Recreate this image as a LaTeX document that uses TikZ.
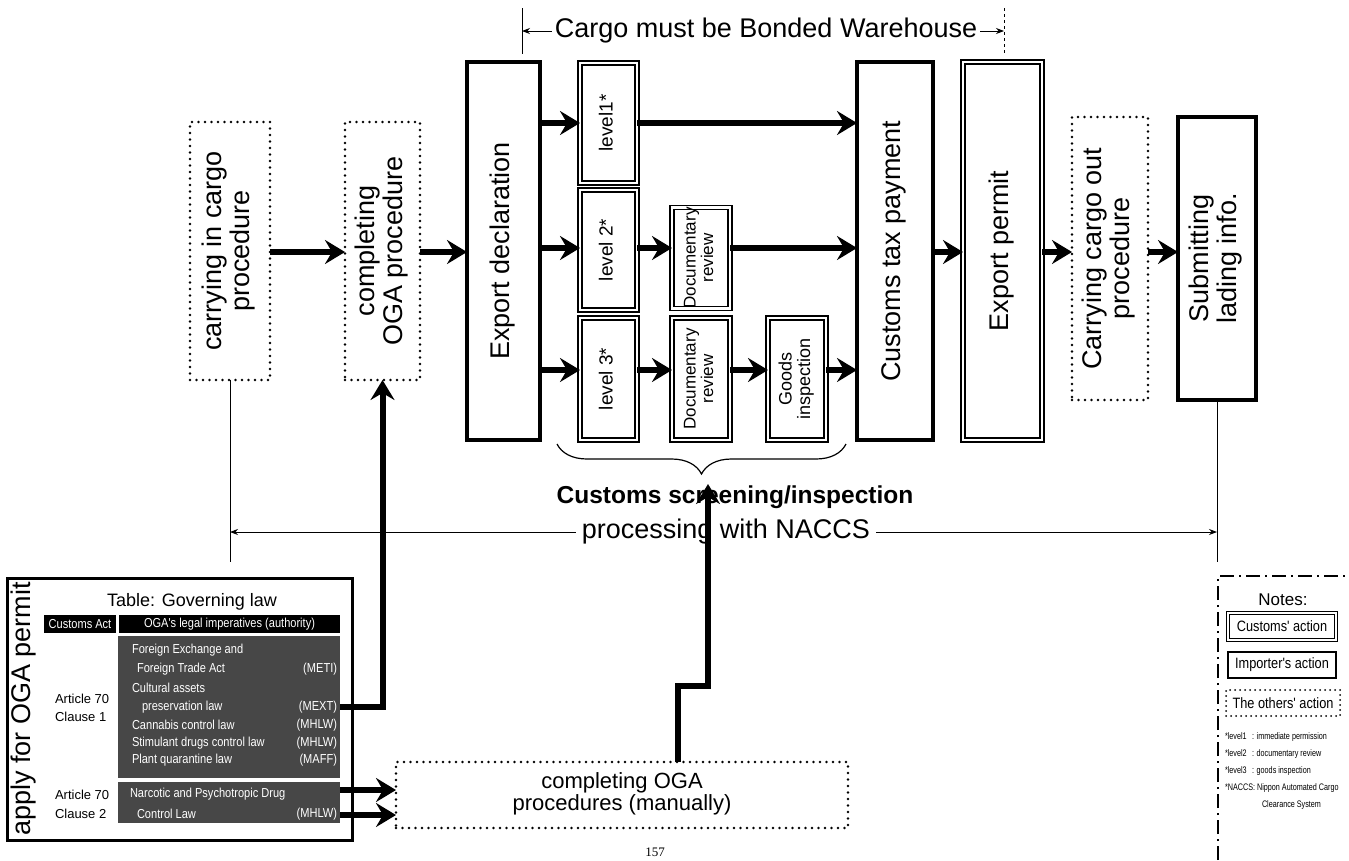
\documentclass[tikz,border=0pt]{standalone}
\usepackage{fontspec}
\setmainfont{Liberation Sans}
\newfontfamily\pagefont{Liberation Serif}
\newfontfamily\narrowfont[FakeStretch=0.85]{Liberation Sans}
\newfontfamily\condfont[FakeStretch=0.76]{Liberation Sans}
\usepackage{graphicx}
\usetikzlibrary{arrows.meta, positioning, decorations.pathreplacing, calc}

\newcommand{\vtext}[1]{\rotatebox{90}{\begin{tabular}{@{}c@{}}#1\end{tabular}}}
\newcommand{\fs}[1]{\fontsize{#1}{#1}\selectfont}

\begin{document}
\begin{tikzpicture}[
    x=1pt, y=-1pt,
    every node/.style={inner sep=0pt, outer sep=0pt},
    importer/.style={draw, line width=3.5pt, font=\fs{27}},
    customs/.style={draw, line width=1.3pt, double, double distance=2.5pt, font=\fs{27}},
    others/.style={draw, line width=2.6pt, dash pattern=on 0pt off 6.5pt, line cap=round, font=\fs{27}},
    flow/.style={line width=6pt, -{Stealth[length=20pt, width=24pt, inset=7pt]}},
    thinarrow/.style={line width=0.8pt, -{Stealth[length=8pt, width=6pt]}},
    lawtext/.style={text=white, font=\narrowfont\fs{13}},
    notetext/.style={font=\condfont\fs{9.5}, anchor=base west}
]
\useasboundingbox (0,0) rectangle (1349,860);

% main flow
\node[others, minimum width=80, minimum height=258] (carryin) at (230,251) {\vtext{carrying in cargo\\procedure}};
\node[others, minimum width=75, minimum height=258] (ogaproc) at (382.5,251) {\vtext{completing\\OGA procedure}};
\node[importer, minimum width=73, minimum height=378] (decl) at (503.5,251) {\vtext{Export declaration}};
\node[customs, minimum width=57, minimum height=120, font=\fs{19}] (lvlone) at (608.5,123) {\vtext{level1*}};
\node[customs, minimum width=57, minimum height=120, font=\fs{19}] (lvltwo) at (608.5,250) {\vtext{level 2*}};
\node[customs, minimum width=57, minimum height=122, font=\fs{19}] (lvlthree) at (608.5,379) {\vtext{level 3*}};
\node[customs, minimum width=58, minimum height=100, font=\fs{17}] (docrevtwo) at (701,258) {\vtext{Documentary\\review}};
\node[customs, minimum width=58, minimum height=122, font=\fs{17}] (docrevthree) at (701,379) {\vtext{Documentary\\review}};
\node[customs, minimum width=58, minimum height=122, font=\fs{18}] (goods) at (797,379) {\vtext{Goods\\inspection}};
\node[importer, minimum width=76, minimum height=378] (tax) at (895,251) {\vtext{Customs tax payment}};
\node[customs, minimum width=79, minimum height=378] (permit) at (1002.5,251) {\vtext{Export permit}};
\node[others, minimum width=76, minimum height=283] (carryout) at (1110,258.5) {\vtext{Carrying cargo out\\procedure}};
\node[importer, minimum width=78, minimum height=283] (submit) at (1217,258.5) {\vtext{Submitting\\lading info.}};

\coordinate (rowa) at (0,123);
\coordinate (rowb) at (0,248);
\coordinate (rowc) at (0,370);
\coordinate (midrow) at (0,252);

\draw[flow] (carryin.east |- midrow) -- (ogaproc.west |- midrow);
\draw[flow] (ogaproc.east |- midrow) -- (decl.west |- midrow);
\draw[flow] (decl.east |- rowa) -- (lvlone.west |- rowa);
\draw[flow] (lvlone.east |- rowa) -- (tax.west |- rowa);
\draw[flow] (decl.east |- rowb) -- (lvltwo.west |- rowb);
\draw[flow] (lvltwo.east |- rowb) -- (docrevtwo.west |- rowb);
\draw[flow] (docrevtwo.east |- rowb) -- (tax.west |- rowb);
\draw[flow] (decl.east |- rowc) -- (lvlthree.west |- rowc);
\draw[flow] (lvlthree.east |- rowc) -- (docrevthree.west |- rowc);
\draw[flow] (docrevthree.east |- rowc) -- (goods.west |- rowc);
\draw[flow] (goods.east |- rowc) -- (tax.west |- rowc);
\draw[flow] (tax.east |- midrow) -- (permit.west |- midrow);
\draw[flow] (permit.east |- midrow) -- (carryout.west |- midrow);
\draw[flow] (carryout.east |- midrow) -- (submit.west |- midrow);

% bonded warehouse span
\node[font=\fs{27}, fill=white, inner xsep=3pt] (bonded) at (766,31) {Cargo must be Bonded Warehouse};
\coordinate (bondl) at (522,31);
\coordinate (bondr) at (1004,31);
\draw[thinarrow] (bonded.west) -- (bondl);
\draw[thinarrow] (bonded.east) -- (bondr);
\draw[line width=0.8pt] (bondl) ++(0,-23) -- ++(0,46);
\draw[line width=0.8pt, dashed] (bondr) ++(0,-23) -- ++(0,46);

% screening brace
\coordinate (bracel) at (557,444);
\coordinate (bracer) at (846,444);
\draw[line width=1.2pt, decorate, decoration={brace, mirror, amplitude=30pt}] (bracel) -- (bracer);
\node[font=\bfseries\fs{24.5}] (screening) at (735,497) {Customs screening/inspection};

% NACCS span
\node[font=\fs{27}, fill=white, inner xsep=6pt] (naccs) at (726,532) {processing with NACCS};
\draw[line width=0.8pt] (carryin.south) -- ++(0,182);
\draw[line width=0.8pt] (submit.south) -- ++(0,162);
\draw[thinarrow] (naccs.west) -- (carryin.south |- naccs);
\draw[thinarrow] (naccs.east) -- (submit.south |- naccs);

% governing law table
\node[draw, line width=3pt, minimum width=345, minimum height=262] (govtable) at (179.5,709) {};
\node[rotate=90, font=\fs{27}] (applylbl) at (24,709) {apply for OGA permit};
\node[font=\fs{18}] (tabtitle) at (192,602) {Table: Governing law};
\node[fill=black, text=white, font=\narrowfont\fs{13}, minimum width=72, minimum height=18] (acthdr) at (80,624) {Customs Act};
\node[fill=black, text=white, font=\narrowfont\fs{13}, minimum width=221, minimum height=18] (ogahdr) at (229.5,624) {OGA's legal imperatives (authority)};
\node[fill=black!72, minimum width=222, minimum height=142] (lawsa) at (229,707) {};
\node[fill=black!72, minimum width=222, minimum height=41] (lawsb) at (229,802.5) {};

\node[lawtext, anchor=west] (fxa) at (132,650) {Foreign Exchange and};
\node[lawtext, anchor=west] (fxb) at (137,669) {Foreign Trade Act};
\node[lawtext, anchor=east] (meti) at (337,669) {(METI)};
\node[lawtext, anchor=west] (cula) at (132,688) {Cultural assets};
\node[lawtext, anchor=west] (culb) at (142,707) {preservation law};
\node[lawtext, anchor=east] (mext) at (337,707) {(MEXT)};
\node[lawtext, anchor=west] (cann) at (132,725) {Cannabis control law};
\node[lawtext, anchor=east] (mhlwa) at (337,725) {(MHLW)};
\node[lawtext, anchor=west] (stim) at (132,743) {Stimulant drugs control law};
\node[lawtext, anchor=east] (mhlwb) at (337,743) {(MHLW)};
\node[lawtext, anchor=west] (plant) at (132,760) {Plant quarantine law};
\node[lawtext, anchor=east] (maff) at (337,760) {(MAFF)};
\node[lawtext, anchor=west] (narca) at (130,794) {Narcotic and Psychotropic Drug};
\node[lawtext, anchor=west] (narcb) at (137,814) {Control Law};
\node[lawtext, anchor=east] (mhlwc) at (337,814) {(MHLW)};

\node[font=\fs{13}, anchor=west] (arta) at (55,699) {Article 70};
\node[font=\fs{13}, anchor=west] (clsa) at (55,717) {Clause 1};
\node[font=\fs{13}, anchor=west] (artb) at (55,795) {Article 70};
\node[font=\fs{13}, anchor=west] (clsb) at (55,814) {Clause 2};

% manual OGA procedures
\node[others, minimum width=452, minimum height=66, font=\fs{22}] (manual) at (622,795) {\begin{tabular}{@{}c@{}}completing OGA\\procedures (manually)\end{tabular}};

\coordinate (lawrowa) at (0,790);
\coordinate (lawrowb) at (0,815);
\draw[flow] (lawsa.east |- mext) -| (ogaproc.south);
\draw[flow] (lawsb.east |- lawrowa) -- (manual.west |- lawrowa);
\draw[flow] (lawsb.east |- lawrowb) -- (manual.west |- lawrowb);

\coordinate (jogl) at (678,686);
\coordinate (jogr) at (708,686);
\coordinate (scrtip) at (708,484);
\draw[flow] (manual.north -| jogl) -- (jogl) -- (jogr) -- (scrtip);

% notes
\coordinate (notesbl) at (1218,860);
\coordinate (notestl) at (1218,576);
\coordinate (notestr) at (1349,576);
\draw[line width=1.5pt, dash pattern=on 14pt off 5pt on 2pt off 5pt] (notesbl) -- (notestl) -- (notestr);
\node[font=\fs{17}] (notes) at (1283,600) {Notes:};
\node[customs, line width=1pt, double distance=2pt, minimum width=108, minimum height=27, font=\narrowfont\fs{15}] (custkey) at (1282,626.5) {Customs' action};
\node[importer, line width=2.5pt, minimum width=108, minimum height=26, font=\narrowfont\fs{15}] (impkey) at (1282,665) {Importer's action};
\node[others, line width=2pt, dash pattern=on 0pt off 5pt, minimum width=114, minimum height=26, font=\narrowfont\fs{15}] (othkey) at (1283,703) {The others' action};

\node[notetext] (keya) at (1225,739) {*level1};
\node[notetext] (keyav) at (1252,739) {: immediate permission};
\node[notetext] (keyb) at (1225,756) {*level2};
\node[notetext] (keybv) at (1252,756) {: documentary review};
\node[notetext] (keyc) at (1225,773) {*level3};
\node[notetext] (keycv) at (1252,773) {: goods inspection};
\node[notetext] (keyd) at (1225,790) {*NACCS: Nippon Automated Cargo};
\node[notetext] (keydv) at (1262,807) {Clearance System};

\node[font=\pagefont\fs{13}] (pagenum) at (655,852) {157};

\end{tikzpicture}
\end{document}
